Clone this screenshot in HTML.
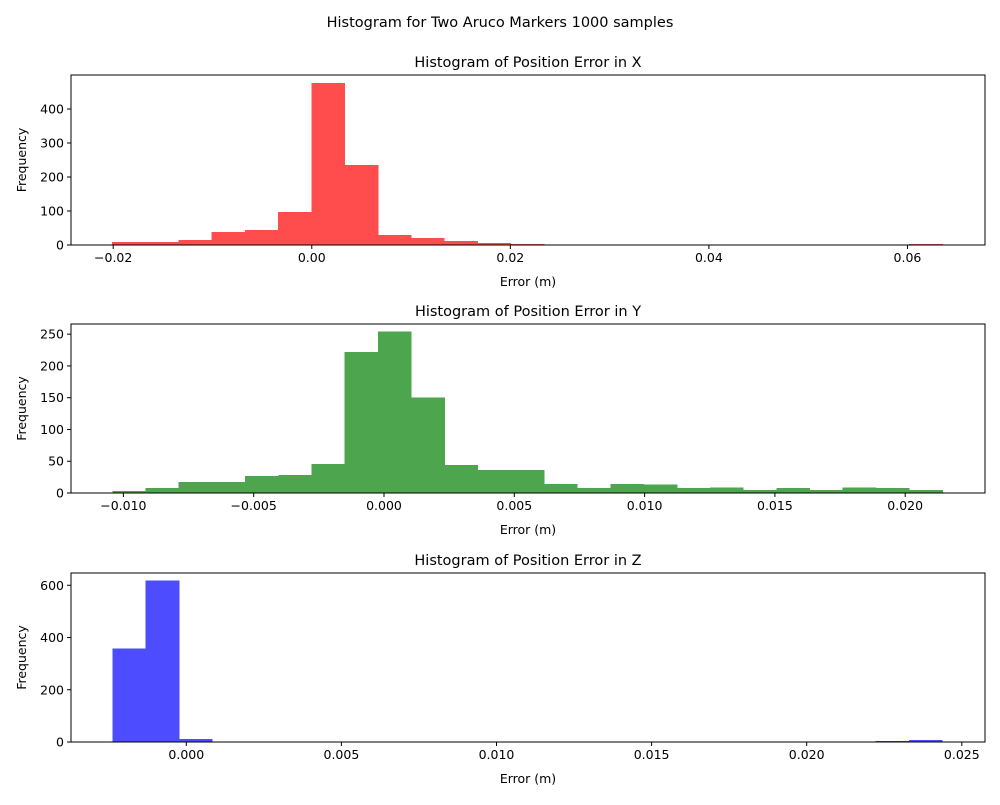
<!DOCTYPE html>
<html><head><meta charset="utf-8"><style>
body{margin:0;background:#fff;}
svg text{font-family:"DejaVu Sans","Liberation Sans",sans-serif;fill:#000;}
</style></head><body>
<svg id="fig" width="1000" height="800" viewBox="0 0 1000 800" xmlns="http://www.w3.org/2000/svg">
<rect width="1000" height="800" fill="#fff"/>
<text x="500" y="27" text-anchor="middle" font-size="14.5">Histogram for Two Aruco Markers 1000 samples</text>
</svg>
<script>
// X error histogram
const xCounts = [9, 9, 15, 38, 44, 97, 476, 235, 29, 21, 12, 6, 3, 0, 0, 0, 0, 0, 0, 0, 0, 0, 0, 0, 3];
const xBinStart = -0.02012, xBinWidth = 0.003345;
const xTicksX = [-0.02, 0.00, 0.02, 0.04, 0.06];
const xTickLabelsX = ["−0.02", "0.00", "0.02", "0.04", "0.06"];
const yTicksX = [0, 100, 200, 300, 400];
// Y error histogram
const yCounts = [3, 8, 17, 17, 27, 28, 46, 222, 254, 150, 44, 36, 36, 14, 8, 14, 13, 8, 9, 5, 8, 5, 9, 8, 5];
const yBinStart = -0.010426, yBinWidth = 0.001274;
const xTicksY = [-0.010, -0.005, 0.000, 0.005, 0.010, 0.015, 0.020];
const xTickLabelsY = ["−0.010", "−0.005", "0.000", "0.005", "0.010", "0.015", "0.020"];
const yTicksY = [0, 50, 100, 150, 200, 250];
// Z error histogram
const zCounts = [358, 619, 11, 0, 0, 0, 0, 0, 0, 0, 0, 0, 0, 0, 0, 0, 0, 0, 0, 0, 0, 0, 0, 4, 8];
const zBinStart = -0.002386, zBinWidth = 0.00107;
const xTicksZ = [0.000, 0.005, 0.010, 0.015, 0.020, 0.025];
const xTickLabelsZ = ["0.000", "0.005", "0.010", "0.015", "0.020", "0.025"];
const yTicksZ = [0, 200, 400, 600];

const svg = document.getElementById('fig');
const NS = 'http://www.w3.org/2000/svg';
function mk(tag, attrs, parent){
  const e = document.createElementNS(NS, tag);
  for (const k in attrs) e.setAttribute(k, attrs[k]);
  (parent||svg).appendChild(e);
  return e;
}
function panel(key, top, bottom, xmin, xmax, ymax, counts, binStart, binWidth, xt, xtl, yt, color, title){
  const L = 71, R = 985;
  const g = mk('g', {});
  
  
  const sx = v => L + (v - xmin) / (xmax - xmin) * (R - L);
  const sy = v => bottom - v / ymax * (bottom - top);
  counts.forEach((c, i) => {
    if (c <= 0) return;
    const x0 = sx(binStart + i * binWidth), x1 = sx(binStart + (i + 1) * binWidth);
    const r = mk('rect', {x: x0, y: sy(c), width: x1 - x0 + 0.6, height: sy(0) - sy(c), fill: color, 'shape-rendering': 'crispEdges'}, g);
    
    
  });
  const frame = mk('rect', {x: L, y: top, width: R - L, height: bottom - top, fill: 'none', stroke: '#000', 'stroke-width': 1}, g);
  
  
  xt.forEach((v, i) => {
    const x = sx(v);
    mk('line', {x1: x, x2: x, y1: bottom, y2: bottom + 4, stroke: '#000'}, g);
    const t = mk('text', {x: x, y: bottom + 17, 'text-anchor': 'middle', 'font-size': 12.5}, g);
    t.textContent = xtl[i];
    
    
  });
  yt.forEach(v => {
    const y = sy(v);
    mk('line', {x1: L - 4, x2: L, y1: y, y2: y, stroke: '#000'}, g);
    const t = mk('text', {x: L - 7, y: y + 4.5, 'text-anchor': 'end', 'font-size': 12.5}, g);
    t.textContent = String(v);
    
    
  });
  const tt = mk('text', {x: (L + R) / 2, y: top - 8, 'text-anchor': 'middle', 'font-size': 14.5}, g);
  tt.textContent = title;
  
  
  const xl = mk('text', {x: (L + R) / 2, y: bottom + 41, 'text-anchor': 'middle', 'font-size': 12.5}, g);
  xl.textContent = 'Error (m)';
  
  
  const cy = (top + bottom) / 2;
  const yl = mk('text', {x: 26, y: cy, 'text-anchor': 'middle', 'font-size': 12.5, transform: 'rotate(-90 26 ' + cy + ')'}, g);
  yl.textContent = 'Frequency';
  
  
}
panel('x-error', 75, 245, -0.02425, 0.06781, 500, xCounts, xBinStart, xBinWidth, xTicksX, xTickLabelsX, yTicksX, 'rgb(255,77,77)', 'Histogram of Position Error in X');
panel('y-error', 324, 493, -0.01201, 0.023062, 266, yCounts, yBinStart, yBinWidth, xTicksY, xTickLabelsY, yTicksY, 'rgb(77,166,77)', 'Histogram of Position Error in Y');
panel('z-error', 573, 742, -0.003717, 0.025748, 647, zCounts, zBinStart, zBinWidth, xTicksZ, xTickLabelsZ, yTicksZ, 'rgb(77,77,255)', 'Histogram of Position Error in Z');
</script>
</body></html>
